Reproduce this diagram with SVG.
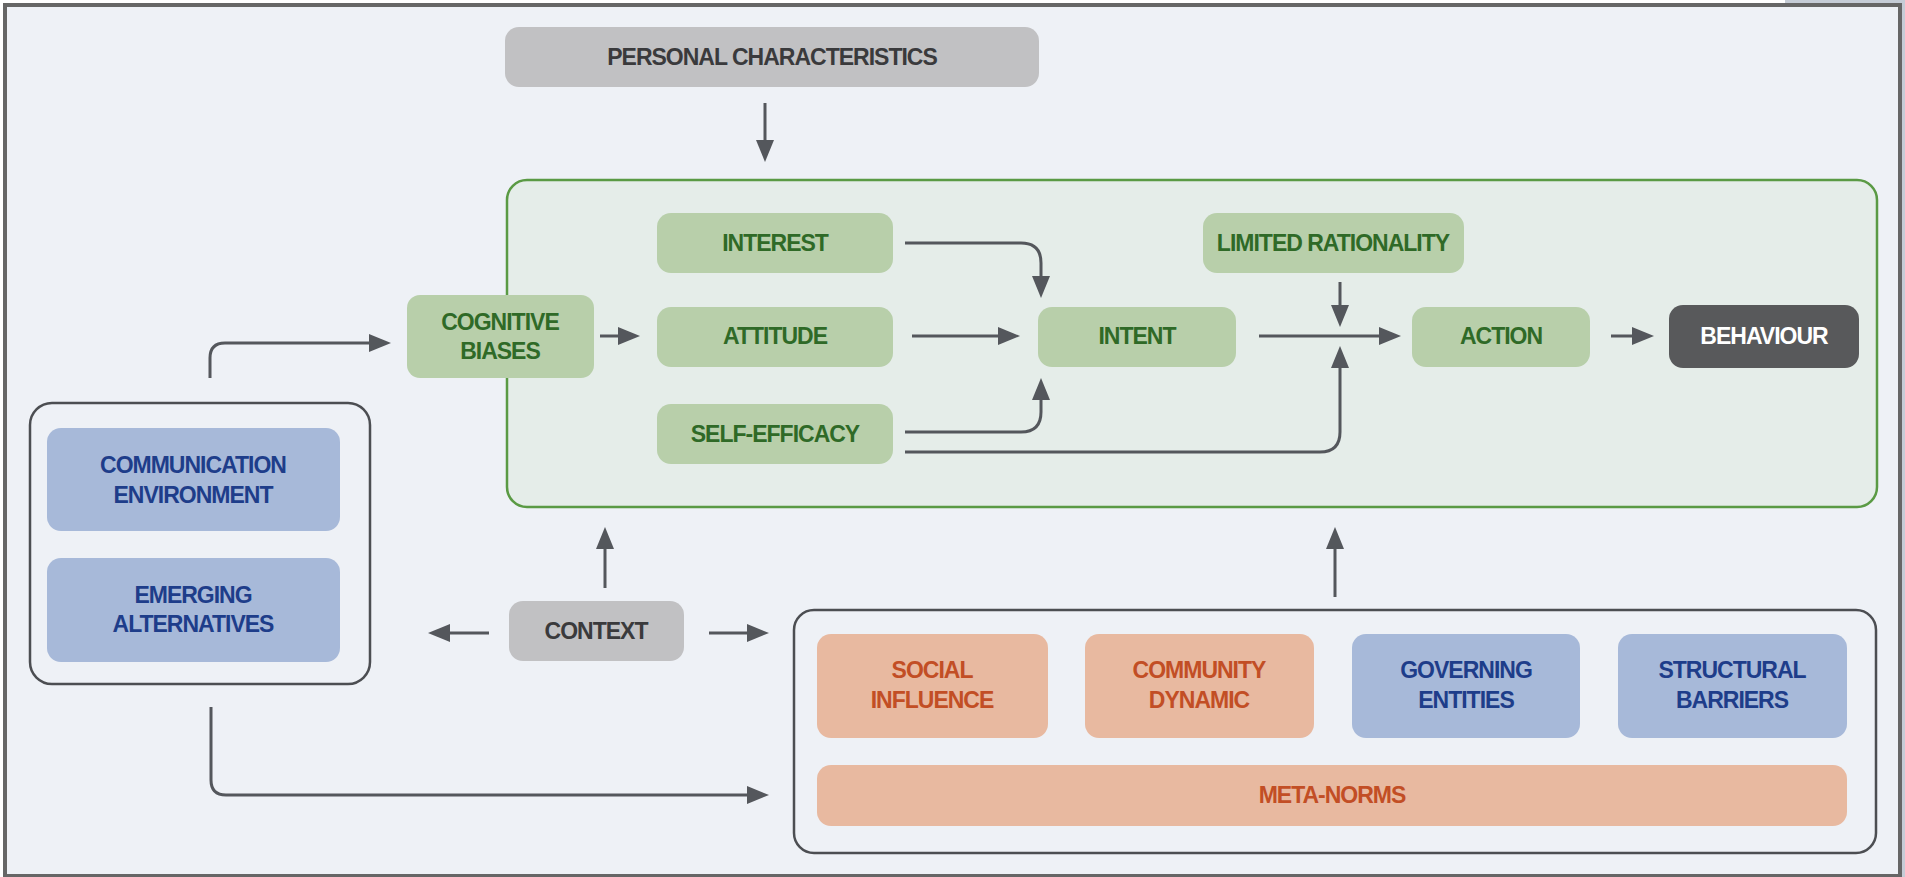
<svg xmlns="http://www.w3.org/2000/svg" width="1905" height="877" viewBox="0 0 1905 877">
<defs>
<style>
.t{font-family:"Liberation Sans",Arial,Helvetica,sans-serif;font-weight:bold;font-size:23px;letter-spacing:-1px;text-anchor:middle}
.gbox{fill:#b8cfaa}
.gt{fill:#2f6a27}
.bbox{fill:#a7b9d9}
.bt{fill:#1e3d8a}
.obox{fill:#e8b9a0}
.ot{fill:#c24e25}
.graybox{fill:#c1c1c3}
.grayt{fill:#3a3a3c}
.cn{fill:none;stroke:#54575c;stroke-width:3}
</style>
<marker id="ah" viewBox="0 0 22 18" refX="12" refY="9" markerWidth="22" markerHeight="18" markerUnits="userSpaceOnUse" orient="auto">
<path d="M0,0 L22,9 L0,18 z" fill="#54575c"/>
</marker>
</defs>
<rect x="0" y="0" width="1905" height="877" fill="#ffffff"/>
<rect x="1785" y="0" width="120" height="4" fill="#c5ccd6"/>
<rect x="1901" y="0" width="4" height="877" fill="#c5ccd6"/>
<rect x="5" y="5" width="1895" height="871" fill="#eef1f6" stroke="#666666" stroke-width="4"/>

<g id="behaviour-frame">
<rect x="507" y="180" width="1370" height="327" rx="20" fill="#e5ede9" stroke="#5a9a44" stroke-width="2.5"/>
</g>
<g id="env-group">
<rect x="30" y="403" width="340" height="281" rx="22" fill="#eef1f6" stroke="#4c4e52" stroke-width="2.5"/>
</g>
<g id="social-group">
<rect x="794" y="610" width="1082" height="243" rx="20" fill="#eef1f6" stroke="#4c4e52" stroke-width="2.5"/>
</g>

<g id="connectors">
<path class="cn" marker-end="url(#ah)" d="M765,103 V152"/>
<path class="cn" marker-end="url(#ah)" d="M600,336 H630"/>
<path class="cn" marker-end="url(#ah)" d="M905,243 H1021 Q1041,243 1041,263 V288"/>
<path class="cn" marker-end="url(#ah)" d="M912,336 H1010"/>
<path class="cn" marker-end="url(#ah)" d="M905,432 H1021 Q1041,432 1041,412 V388"/>
<path class="cn" marker-end="url(#ah)" d="M905,452 H1320 Q1340,452 1340,432 V356"/>
<path class="cn" marker-end="url(#ah)" d="M1340,282 V317"/>
<path class="cn" marker-end="url(#ah)" d="M1259,336 H1391"/>
<path class="cn" marker-end="url(#ah)" d="M1611,336 H1644"/>
<path class="cn" marker-end="url(#ah)" d="M210,378 V358 Q210,343 225,343 H381"/>
<path class="cn" marker-end="url(#ah)" d="M605,588 V537"/>
<path class="cn" marker-end="url(#ah)" d="M489,633 H438"/>
<path class="cn" marker-end="url(#ah)" d="M709,633 H759"/>
<path class="cn" marker-end="url(#ah)" d="M211,707 V780 Q211,795 226,795 H759"/>
<path class="cn" marker-end="url(#ah)" d="M1335,597 V537"/>
</g>

<g id="personal-characteristics">
<rect class="graybox" x="505" y="27" width="534" height="60" rx="14"/>
<text class="t grayt" x="772" y="65">PERSONAL CHARACTERISTICS</text>
</g>
<g id="cognitive-biases">
<rect class="gbox" x="407" y="295" width="187" height="83" rx="13"/>
<text class="t gt" x="500" y="330">COGNITIVE</text>
<text class="t gt" x="500" y="359">BIASES</text>
</g>
<g id="interest">
<rect class="gbox" x="657" y="213" width="236" height="60" rx="14"/>
<text class="t gt" x="775" y="251">INTEREST</text>
</g>
<g id="attitude">
<rect class="gbox" x="657" y="307" width="236" height="60" rx="14"/>
<text class="t gt" x="775" y="344">ATTITUDE</text>
</g>
<g id="self-efficacy">
<rect class="gbox" x="657" y="404" width="236" height="60" rx="14"/>
<text class="t gt" x="775" y="442">SELF-EFFICACY</text>
</g>
<g id="intent">
<rect class="gbox" x="1038" y="307" width="198" height="60" rx="14"/>
<text class="t gt" x="1137" y="344">INTENT</text>
</g>
<g id="limited-rationality">
<rect class="gbox" x="1203" y="213" width="261" height="60" rx="14"/>
<text class="t gt" x="1333" y="251">LIMITED RATIONALITY</text>
</g>
<g id="action">
<rect class="gbox" x="1412" y="307" width="178" height="60" rx="14"/>
<text class="t gt" x="1501" y="344">ACTION</text>
</g>
<g id="behaviour">
<rect x="1669" y="305" width="190" height="63" rx="14" fill="#58595b"/>
<text class="t" fill="#ffffff" x="1764" y="344">BEHAVIOUR</text>
</g>
<g id="communication-environment">
<rect class="bbox" x="47" y="428" width="293" height="103" rx="14"/>
<text class="t bt" x="193" y="473">COMMUNICATION</text>
<text class="t bt" x="193" y="503">ENVIRONMENT</text>
</g>
<g id="emerging-alternatives">
<rect class="bbox" x="47" y="558" width="293" height="104" rx="14"/>
<text class="t bt" x="193" y="603">EMERGING</text>
<text class="t bt" x="193" y="632">ALTERNATIVES</text>
</g>
<g id="context">
<rect class="graybox" x="509" y="601" width="175" height="60" rx="14"/>
<text class="t grayt" x="596" y="639">CONTEXT</text>
</g>
<g id="social-influence">
<rect class="obox" x="817" y="634" width="231" height="104" rx="14"/>
<text class="t ot" x="932" y="678">SOCIAL</text>
<text class="t ot" x="932" y="708">INFLUENCE</text>
</g>
<g id="community-dynamic">
<rect class="obox" x="1085" y="634" width="229" height="104" rx="14"/>
<text class="t ot" x="1199" y="678">COMMUNITY</text>
<text class="t ot" x="1199" y="708">DYNAMIC</text>
</g>
<g id="governing-entities">
<rect class="bbox" x="1352" y="634" width="228" height="104" rx="14"/>
<text class="t bt" x="1466" y="678">GOVERNING</text>
<text class="t bt" x="1466" y="708">ENTITIES</text>
</g>
<g id="structural-barriers">
<rect class="bbox" x="1618" y="634" width="229" height="104" rx="14"/>
<text class="t bt" x="1732" y="678">STRUCTURAL</text>
<text class="t bt" x="1732" y="708">BARRIERS</text>
</g>
<g id="meta-norms">
<rect class="obox" x="817" y="765" width="1030" height="61" rx="14"/>
<text class="t ot" x="1332" y="803">META-NORMS</text>
</g>
</svg>
